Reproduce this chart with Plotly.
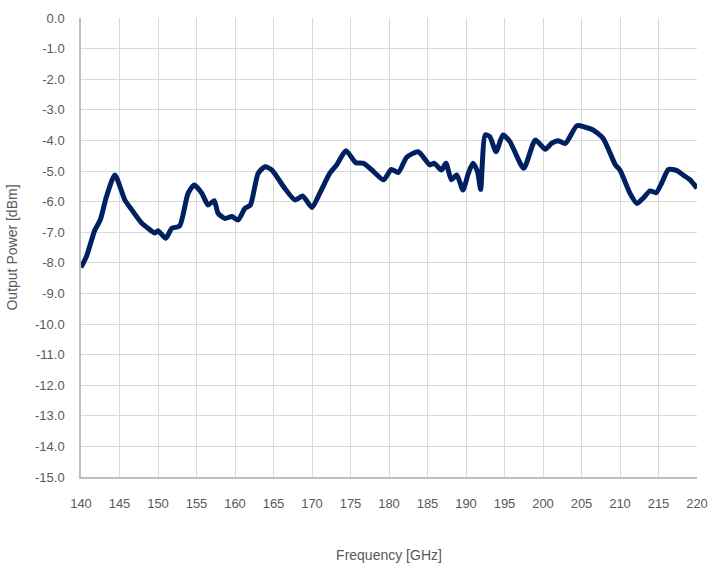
import plotly.graph_objects as go

freq_ghz = [140.0, 140.7, 141.8, 142.5, 143.3, 144.4, 145.7, 146.6, 147.9, 148.7, 149.6, 150.0, 151.0,
            151.8, 152.8, 153.9, 154.7, 155.7, 156.5, 157.3, 157.8, 158.7, 159.6, 160.4, 161.3, 162.0,
            163.0, 163.9, 164.8, 166.3, 167.8, 168.8, 170.0, 171.0, 172.3, 173.2, 174.4, 175.7, 176.7,
            178.0, 179.3, 180.3, 181.2, 182.3, 183.8, 185.3, 185.9, 186.8, 187.4, 188.1, 188.8, 189.6,
            190.3, 190.9, 191.5, 191.9, 192.5, 193.1, 193.9, 194.8, 195.7, 197.5, 199.0, 200.3, 201.1,
            202.0, 202.9, 204.4, 205.5, 206.5, 207.8, 209.4, 210.0, 211.3, 212.2, 213.0, 213.9, 214.7,
            215.4, 216.3, 217.4, 218.2, 219.1, 220.0]
power_dbm = [-8.15, -7.8, -6.93, -6.6, -5.84, -5.13, -5.95, -6.27, -6.71, -6.87, -7.03, -6.95, -7.2,
             -6.87, -6.8, -5.73, -5.46, -5.73, -6.11, -5.97, -6.38, -6.55, -6.49, -6.6, -6.22, -6.11,
             -5.08, -4.86, -4.97, -5.51, -5.95, -5.82, -6.19, -5.73, -5.08, -4.8, -4.34, -4.73, -4.75,
             -5.02, -5.29, -4.95, -5.05, -4.55, -4.37, -4.8, -4.75, -4.97, -4.75, -5.29, -5.13, -5.62,
             -5.08, -4.75, -5.02, -5.6, -3.82, -3.88, -4.37, -3.82, -4.04, -4.91, -3.99, -4.29, -4.1,
             -4.01, -4.1, -3.52, -3.57, -3.66, -3.93, -4.8, -4.97, -5.73, -6.06, -5.89, -5.65, -5.71,
             -5.4, -4.95, -4.99, -5.13, -5.29, -5.56]

x_ticks = list(range(140, 221, 5))
y_ticks = [-i for i in range(0, 16)]
y_labels = ["0.0"] + [f"-{i}.0" for i in range(1, 16)]

font_fam = "Liberation Sans, Arial, sans-serif"

fig = go.Figure()
fig.add_trace(go.Scatter(
    x=freq_ghz, y=power_dbm, mode="lines",
    line=dict(color="#002060", width=5, shape="spline", smoothing=0.6),
    showlegend=False,
))

fig.update_layout(
    width=708, height=564,
    margin=dict(l=81, r=11, t=18, b=87, autoexpand=False),
    paper_bgcolor="white", plot_bgcolor="white",
    font=dict(family=font_fam, color="#595959", size=13),
    xaxis=dict(
        range=[140, 220], tickvals=x_ticks, ticktext=[str(v) for v in x_ticks],
        showgrid=True, gridcolor="#d9d9d9", gridwidth=1.3,
        showline=True, linecolor="#bfbfbf", linewidth=1.5,
        zeroline=False, ticks="", ticklabelstandoff=14, automargin=False,
        title=dict(text="Frequency [GHz]", standoff=40, font=dict(size=14)),
        tickfont=dict(size=13),
    ),
    yaxis=dict(
        range=[-15, 0], tickvals=y_ticks, ticktext=y_labels,
        showgrid=True, gridcolor="#d9d9d9", gridwidth=1.3,
        showline=True, linecolor="#bfbfbf", linewidth=1.5,
        zeroline=False, ticks="", ticklabelstandoff=12, automargin=False,
        title=dict(text="Output Power [dBm]", standoff=14, font=dict(size=14)),
        tickfont=dict(size=13),
    ),
)

fig.write_html(
    "out.html",
    config={"displayModeBar": False},
    post_script="document.body.style.margin='0';document.body.style.overflow='hidden';",
)
